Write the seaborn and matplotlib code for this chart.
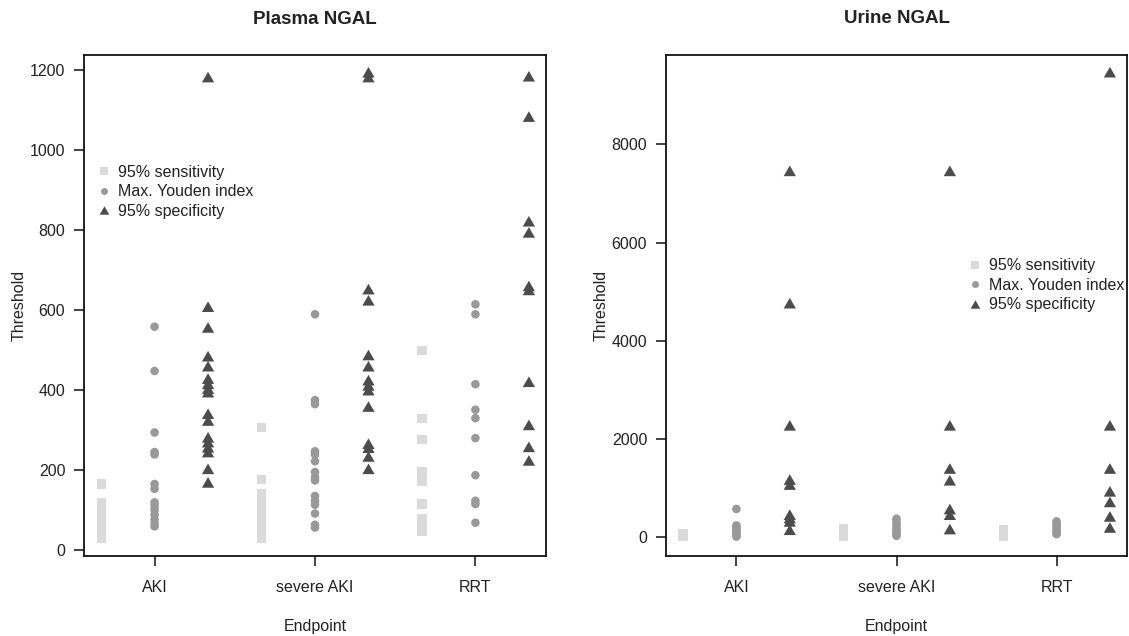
import matplotlib
matplotlib.use("Agg")
import matplotlib.pyplot as plt
from matplotlib.lines import Line2D
import seaborn as sns
import pandas as pd

# ---------------- data ----------------
endpoints = ["AKI", "severe AKI", "RRT"]
series_names = ["95% sensitivity", "Max. Youden index", "95% specificity"]

# Plasma NGAL
plasma_sens_aki = [164, 118, 94, 85, 75, 65, 55, 45, 35, 29]
plasma_sens_severe = [306, 175, 140, 128, 115, 103, 90, 78, 65, 52, 40, 28]
plasma_sens_rrt = [499, 329, 275, 194, 182, 171, 114, 77, 66, 55, 45]

plasma_youden_aki = [558, 447, 293, 244, 238, 164, 152, 118, 110, 100, 88, 76, 66, 58]
plasma_youden_severe = [589, 374, 364, 246, 238, 221, 194, 181, 173, 134, 122, 112, 90, 62, 55]
plasma_youden_rrt = [614, 589, 414, 350, 329, 279, 186, 122, 114, 67]

plasma_spec_aki = [1183, 608, 556, 484, 459, 428, 415, 403, 394, 340, 323, 281, 269, 256, 244, 202, 168]
plasma_spec_severe = [1195, 1183, 652, 624, 487, 459, 424, 411, 399, 358, 265, 255, 233, 202]
plasma_spec_rrt = [1185, 1084, 822, 794, 660, 650, 420, 312, 257, 223]

# Urine NGAL
urine_sens_aki = [10, 25, 40, 55, 70]
urine_sens_severe = [5, 40, 80, 120, 160, 180]
urine_sens_rrt = [5, 40, 80, 120, 160]

urine_youden_aki = [573, 237, 200, 160, 120, 90, 60, 30, 10]
urine_youden_severe = [374, 300, 240, 180, 130, 90, 50, 27]
urine_youden_rrt = [319, 270, 220, 170, 120, 80, 60]

urine_spec_aki = [7460, 4765, 2276, 1172, 1070, 456, 389, 319, 149]
urine_spec_severe = [7460, 2276, 1397, 1157, 571, 456, 164]
urine_spec_rrt = [9470, 2276, 1397, 932, 716, 421, 196]

plasma_yticks = [0, 200, 400, 600, 800, 1000, 1200]
urine_yticks = [0, 2000, 4000, 6000, 8000]


def build_frame(sens, youden, spec):
    rows = []
    for name, groups in zip(series_names, (sens, youden, spec)):
        for ep, vals in zip(endpoints, groups):
            for v in vals:
                rows.append({"Endpoint": ep, "Type": name, "Threshold": v})
    return pd.DataFrame(rows)


plasma_df = build_frame(
    (plasma_sens_aki, plasma_sens_severe, plasma_sens_rrt),
    (plasma_youden_aki, plasma_youden_severe, plasma_youden_rrt),
    (plasma_spec_aki, plasma_spec_severe, plasma_spec_rrt),
)
urine_df = build_frame(
    (urine_sens_aki, urine_sens_severe, urine_sens_rrt),
    (urine_youden_aki, urine_youden_severe, urine_youden_rrt),
    (urine_spec_aki, urine_spec_severe, urine_spec_rrt),
)

# ---------------- style ----------------
sns.set_theme(style="ticks")
plt.rcParams["font.family"] = ["Liberation Sans", "DejaVu Sans"]

colors = {series_names[0]: "#dadada", series_names[1]: "#999999", series_names[2]: "#4c4c4c"}
tri = [(0.0, 0.866), (-1.0, -0.866), (1.0, -0.866)]
markers = {series_names[0]: "s", series_names[1]: "o", series_names[2]: tri}
sizes = {series_names[0]: 44, series_names[1]: 38, series_names[2]: 78}
dodge = {series_names[0]: -1 / 3, series_names[1]: 0.0, series_names[2]: 1 / 3}
ep_index = {e: i for i, e in enumerate(endpoints)}

text_color = "#222222"
FS = 11.5

fig = plt.figure(figsize=(11.29, 6.36), dpi=100)
ax1 = fig.add_axes([84 / 1129, 1 - 555.5 / 636, 462 / 1129, 500 / 636])
ax2 = fig.add_axes([666 / 1129, 1 - 555.5 / 636, 461 / 1129, 500.5 / 636])


def draw(ax, df, title, yticks, ylim, legend_anchor):
    df = df.copy()
    df["pos"] = df["Endpoint"].map(ep_index) + df["Type"].map(dodge)
    sns.scatterplot(
        data=df, x="pos", y="Threshold",
        hue="Type", style="Type", size="Type",
        palette=colors, markers=markers, sizes=sizes,
        hue_order=series_names, style_order=series_names, size_order=series_names,
        linewidth=0, edgecolor="none", legend=False, ax=ax, zorder=3,
    )
    ax.set_xlim(-0.44, 2.44)
    ax.set_ylim(*ylim)
    ax.set_xticks(range(len(endpoints)))
    ax.set_xticklabels(endpoints)
    ax.set_yticks(yticks)
    ax.set_yticklabels([str(t) for t in yticks])
    for s in ax.spines.values():
        s.set_visible(True)
        s.set_linewidth(1.3)
        s.set_color("#111111")
    ax.tick_params(axis="both", length=7, width=1.1, color="#111111",
                   labelsize=FS, labelcolor=text_color)
    ax.tick_params(axis="x", pad=10.5)
    ax.tick_params(axis="y", pad=6.5)
    ax.set_xlabel("Endpoint", fontsize=FS, color=text_color)
    ax.set_ylabel("Threshold", fontsize=FS, color=text_color)
    ax.xaxis.set_label_coords(0.5, -0.126)
    ax.yaxis.set_label_coords(-0.124, 0.5)
    ax.set_title(title, fontsize=13.5, fontweight="bold", color=text_color, pad=23)
    ax.grid(False)

    handles = [
        Line2D([], [], linestyle="", marker=markers[n], color=colors[n],
               markeredgewidth=0,
               markersize={series_names[0]: 5.5, series_names[1]: 5.0, series_names[2]: 7.0}[n])
        for n in series_names
    ]
    ax.legend(handles, series_names, loc="upper left", bbox_to_anchor=legend_anchor,
              frameon=False, fontsize=FS, handlelength=1.0, handletextpad=0.42,
              labelspacing=0.28, borderpad=0, borderaxespad=0, labelcolor=text_color)


draw(ax1, plasma_df, "Plasma NGAL", plasma_yticks, (-15, 1237), (0.025, 0.781))
draw(ax2, urine_df, "Urine NGAL", urine_yticks, (-375, 9820), (0.652, 0.594))

fig.savefig("out.png", dpi=100)
